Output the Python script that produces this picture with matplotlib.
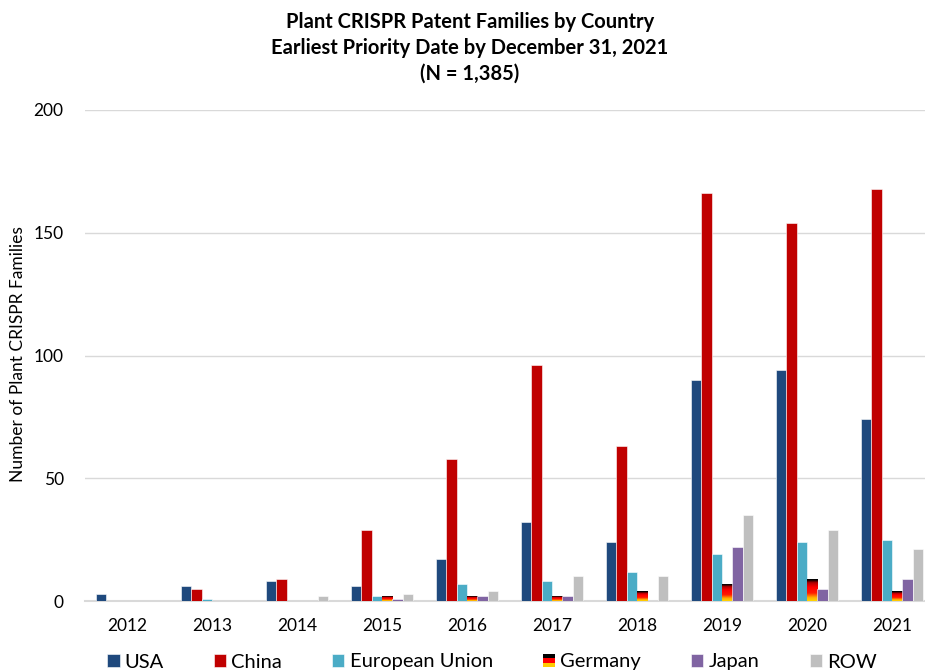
import numpy as np
import matplotlib
matplotlib.use("Agg")
import matplotlib.pyplot as plt
from matplotlib.colors import LinearSegmentedColormap
from matplotlib.patches import Rectangle
from matplotlib.legend_handler import HandlerBase

plt.rcParams['font.family'] = ['Lato', 'DejaVu Sans']

years = ['2012', '2013', '2014', '2015', '2016', '2017', '2018', '2019', '2020', '2021']
usa     = [3, 6, 8, 6, 17, 32, 24, 90, 94, 74]
china   = [0, 5, 9, 29, 58, 96, 63, 166, 154, 168]
eu      = [0, 1, 0, 2, 7, 8, 12, 19, 24, 25]
germany = [0, 0, 0, 2, 2, 2, 4, 7, 9, 4]
japan   = [0, 0, 0, 1, 2, 2, 0, 22, 5, 9]
row     = [0, 0, 2, 3, 4, 10, 10, 35, 29, 21]

series_names = ['USA', 'China', 'European Union', 'Germany', 'Japan', 'ROW']
series_vals = [usa, china, eu, germany, japan, row]
colors = ['#1F497D', '#C00000', '#4BACC6', None, '#8064A2', '#BFBFBF']

W, H = 925, 670
fig = plt.figure(figsize=(W / 100, H / 100), dpi=100)
ax = fig.add_axes([84.5 / W, 69 / H, 850 / W, 491 / H])

x = np.arange(len(years))
bw = 0.123
flag_cmap = LinearSegmentedColormap.from_list(
    'de', [(0.0, '#FFD700'), (0.15, '#FFB000'), (0.35, '#FF1a00'),
           (0.6, '#FF0000'), (0.8, '#B00000'), (0.92, '#000000'), (1.0, '#000000')])
grad = np.linspace(0, 1, 256).reshape(-1, 1)

handles = []
for i, (name, vals, c) in enumerate(zip(series_names, series_vals, colors)):
    off = (i - 2.5) * bw
    if c is None:
        bars = ax.bar(x + off, vals, bw, color='none', edgecolor='none', zorder=3, label=name)
        for p in bars.patches:
            h = p.get_height()
            if h <= 0:
                continue
            x0 = p.get_x()
            im = ax.imshow(grad, extent=[x0, x0 + p.get_width(), 0, h], origin='lower',
                           aspect='auto', cmap=flag_cmap, zorder=3, interpolation='bilinear')
            im.set_clip_path(p)
    else:
        bars = ax.bar(x + off, vals, bw, color=c, edgecolor='white', linewidth=0.4, zorder=3, label=name)
    handles.append(bars)

ax.set_xlim(-0.5, len(years) - 0.5)
ax.set_ylim(0, 200)
ax.set_aspect('auto')
ax.set_yticks([0, 50, 100, 150, 200])
ax.set_xticks(x)
ax.set_xticklabels(years)
ax.tick_params(axis='both', length=0, labelsize=12.5, colors='#000000')
ax.tick_params(axis='x', pad=12)
ax.tick_params(axis='y', pad=15)
ax.grid(axis='y', color='#D9D9D9', linewidth=1.0, zorder=0)
ax.set_axisbelow(True)
for s in ['top', 'right', 'left']:
    ax.spines[s].set_visible(False)
ax.spines['bottom'].set_color('#D9D9D9')
ax.spines['bottom'].set_linewidth(1.5)

fig.text(18 / W, 1 - 354 / H, 'Number of Plant CRISPR Families', rotation=90,
         ha='center', va='center', fontsize=12.5)

title_lines = ['Plant CRISPR Patent Families by Country',
               'Earliest Priority Date by December 31, 2021',
               '(N = 1,385)']
for k, t in enumerate(title_lines):
    fig.text(470 / W, 1 - (22 + 26 * k) / H, t, ha='center', va='center',
             fontsize=14.5, fontweight='bold')


class FlagHandler(HandlerBase):
    def create_artists(self, legend, orig_handle, xdescent, ydescent, width, height, fontsize, trans):
        arts = []
        cols = ['#FFCC00', '#FF0000', '#000000']
        for j, cc in enumerate(cols):
            r = Rectangle((-xdescent, -ydescent + j * height / 3), width, height / 3,
                          facecolor=cc, edgecolor='none', transform=trans)
            arts.append(r)
        return arts


leg = fig.legend(handles, series_names, loc='center', bbox_to_anchor=(492 / W, 1 - 662 / H),
                 ncol=6, frameon=False, fontsize=14.5, handlelength=0.6, handleheight=0.6,
                 handletextpad=0.25, columnspacing=2.5,
                 handler_map={handles[3]: FlagHandler()})

fig.savefig('out.png', dpi=100)
